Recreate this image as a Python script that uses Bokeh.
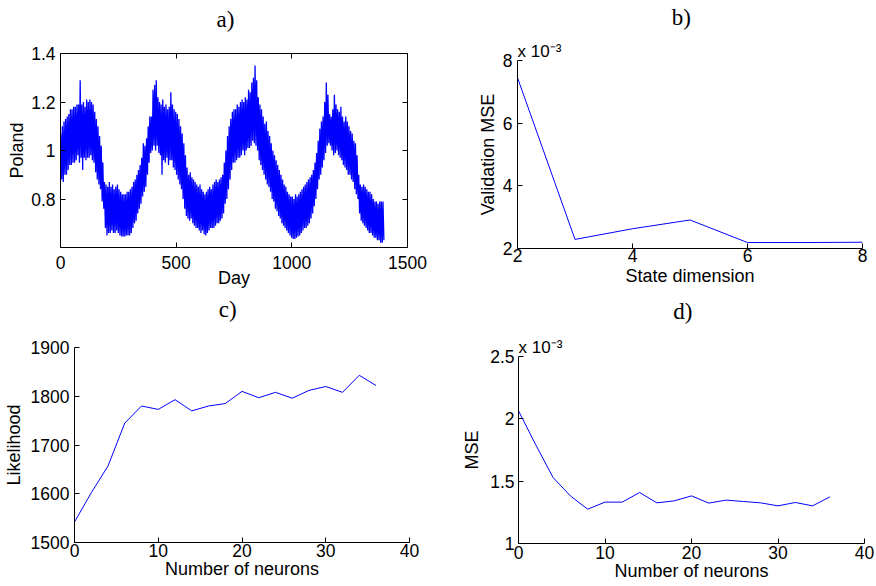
from bokeh.plotting import figure
from bokeh.models import Range1d, FixedTicker, LinearAxis, Title, CustomJSTickFormatter
from bokeh.layouts import column, row
from bokeh.embed import file_html
from bokeh.resources import INLINE

# ---------------- data ----------------
# a) Poland daily load: per-week weekday level (high) and weekend level (low)
poland_week_high = [
    1.07, 1.10, 1.12, 1.13, 1.14, 1.15, 1.17, 1.17, 1.18, 1.18,
    1.19, 1.19, 1.29, 1.19, 1.20, 1.18, 1.21, 1.20, 1.21, 1.20,
    1.19, 1.16, 1.13, 1.10, 1.06, 1.02, 0.95, 0.87, 0.86, 0.85,
    0.87, 0.85, 0.86, 0.84, 0.85, 0.86, 0.84, 0.83, 0.82, 0.82,
    0.82, 0.83, 0.83, 0.84, 0.85, 0.87, 0.88, 0.90, 0.92, 0.94,
    0.97, 1.03, 1.02, 1.05, 1.10, 1.14, 1.14, 1.25, 1.27, 1.29,
    1.22, 1.20, 1.19, 1.21, 1.18, 1.19, 1.17, 1.18, 1.24, 1.19,
    1.17, 1.16, 1.15, 1.13, 1.10, 1.07, 1.03, 0.98, 0.93, 0.90,
    0.91, 0.89, 0.88, 0.87, 0.86, 0.85, 0.86, 0.84, 0.83, 0.82,
    0.83, 0.84, 0.85, 0.84, 0.86, 0.87, 0.88, 0.87, 0.88, 0.89,
    0.90, 0.95, 1.00, 1.06, 1.10, 1.13, 1.16, 1.17, 1.17, 1.19,
    1.18, 1.20, 1.21, 1.20, 1.22, 1.21, 1.25, 1.24, 1.28, 1.30,
    1.35, 1.29, 1.22, 1.19, 1.17, 1.14, 1.11, 1.12, 1.08, 1.06,
    1.03, 1.00, 0.98, 0.96, 0.94, 0.92, 0.90, 0.88, 0.86, 0.85,
    0.83, 0.82, 0.81, 0.81, 0.80, 0.82, 0.81, 0.82, 0.83, 0.84,
    0.85, 0.86, 0.87, 0.88, 0.89, 0.90, 0.92, 0.95, 0.99, 1.04,
    1.09, 1.12, 1.14, 1.20, 1.28, 1.23, 1.15, 1.14, 1.17, 1.23,
    1.19, 1.17, 1.16, 1.18, 1.14, 1.12, 1.14, 1.12, 1.10, 1.08,
    1.07, 1.04, 1.03, 0.98, 0.90, 0.86, 0.85, 0.86, 0.85, 0.84,
    0.83, 0.83, 0.82, 0.80, 0.79, 0.79, 0.78, 0.79, 0.79, 0.79,
]
poland_week_low = [
    0.88, 0.87, 0.90, 0.90, 0.92, 0.94, 0.94, 0.95, 0.95, 0.96,
    0.98, 0.95, 0.97, 0.92, 0.97, 0.96, 0.97, 0.97, 0.98, 0.96,
    0.95, 0.91, 0.88, 0.86, 0.84, 0.79, 0.76, 0.68, 0.65, 0.66,
    0.66, 0.67, 0.66, 0.66, 0.67, 0.66, 0.65, 0.645, 0.645, 0.645,
    0.65, 0.65, 0.65, 0.66, 0.68, 0.70, 0.71, 0.74, 0.76, 0.78,
    0.81, 0.83, 0.85, 0.90, 0.95, 0.99, 1.00, 1.02, 1.00, 1.02,
    0.99, 0.98, 0.90, 0.96, 0.95, 0.97, 0.94, 0.96, 0.96, 0.93,
    0.92, 0.90, 0.88, 0.86, 0.84, 0.80, 0.76, 0.73, 0.72, 0.71,
    0.72, 0.70, 0.69, 0.68, 0.68, 0.67, 0.66, 0.67, 0.655, 0.65,
    0.66, 0.67, 0.68, 0.68, 0.68, 0.69, 0.70, 0.70, 0.71, 0.72,
    0.74, 0.78, 0.80, 0.84, 0.88, 0.92, 0.95, 0.95, 0.96, 0.97,
    0.97, 0.98, 1.00, 0.98, 1.00, 1.01, 1.01, 1.02, 1.04, 1.03,
    1.02, 1.00, 0.96, 0.94, 0.92, 0.90, 0.88, 0.86, 0.85, 0.83,
    0.80, 0.79, 0.76, 0.75, 0.73, 0.72, 0.70, 0.69, 0.68, 0.67,
    0.66, 0.65, 0.64, 0.635, 0.635, 0.64, 0.645, 0.65, 0.66, 0.67,
    0.68, 0.68, 0.69, 0.70, 0.72, 0.74, 0.77, 0.80, 0.84, 0.88,
    0.90, 0.93, 0.96, 0.99, 1.02, 1.03, 1.02, 1.00, 0.98, 0.99,
    1.00, 0.98, 0.97, 0.96, 0.94, 0.93, 0.92, 0.90, 0.90, 0.88,
    0.87, 0.84, 0.82, 0.80, 0.74, 0.71, 0.70, 0.69, 0.68, 0.67,
    0.66, 0.66, 0.65, 0.64, 0.64, 0.63, 0.63, 0.62, 0.62, 0.63,
]
week_days = 7
a_xticks = [0, 500, 1000, 1500]
a_yticks = [0.8, 1.0, 1.2, 1.4]

# b) validation MSE (units of 1e-3) vs state dimension
state_dim = [2, 3, 4, 5, 6, 7, 8]
val_mse_e3 = [7.45, 2.29, 2.63, 2.91, 2.19, 2.19, 2.20]
b_xticks = [2, 4, 6, 8]
b_yticks = [2, 4, 6, 8]

# c) likelihood vs number of neurons
neurons = [0, 2, 4, 6, 8, 10, 12, 14, 16, 18, 20, 22, 24, 26, 28, 30, 32, 34, 36]
likelihood = [1542, 1602, 1657, 1745, 1780, 1773, 1793, 1770, 1780, 1785,
              1810, 1797, 1808, 1796, 1812, 1820, 1808, 1843, 1822]
c_xticks = [0, 10, 20, 30, 40]
c_yticks = [1500, 1600, 1700, 1800, 1900]

# d) MSE (units of 1e-3) vs number of neurons
mse_e3 = [2.064, 1.791, 1.529, 1.382, 1.275, 1.332, 1.332, 1.409, 1.326, 1.342,
          1.382, 1.324, 1.348, 1.337, 1.326, 1.302, 1.329, 1.302, 1.374]
d_xticks = [0, 10, 20, 30, 40]
d_yticks = [1.0, 1.5, 2.0, 2.5]

# ---------------- helpers ----------------
SANS = "Liberation Sans"
SERIF = "Liberation Serif"
FMT = "return String(Math.round(tick*1000)/1000);"
BLUE = "#0000ff"
NB = "\u00a0"


def style_axis(ax, ticks, label=None, standoff=5, label_standoff=0, show_labels=True):
    ax.ticker = FixedTicker(ticks=ticks)
    ax.formatter = CustomJSTickFormatter(code=FMT)
    ax.major_tick_in = 5
    ax.major_tick_out = 0
    ax.minor_tick_line_color = None
    ax.axis_line_color = "black"
    ax.axis_line_width = 1
    ax.major_tick_line_color = "black"
    ax.major_label_text_font = SANS
    ax.major_label_text_color = "black"
    if show_labels:
        ax.major_label_text_font_size = "17.5px"
        ax.major_label_standoff = standoff
    else:
        ax.major_label_text_font_size = "0px"
        ax.major_label_standoff = 0
    if label is not None:
        ax.axis_label = label
        ax.axis_label_text_font = SANS
        ax.axis_label_text_font_size = "18px"
        ax.axis_label_text_font_style = "normal"
        ax.axis_label_text_color = "black"
        ax.axis_label_standoff = label_standoff


def letter_on_axis(ax, text, standoff):
    # panel letter drawn as the label of an axis above the frame
    ax.axis_label = text
    ax.axis_label_text_font = SERIF
    ax.axis_label_text_font_size = "23px"
    ax.axis_label_text_font_style = "normal"
    ax.axis_label_text_color = "black"
    ax.axis_label_standoff = standoff


def hidden_top_axis(p):
    ax = LinearAxis()
    p.add_layout(ax, "above")
    ax.ticker = FixedTicker(ticks=[])
    ax.axis_line_color = None
    ax.major_tick_line_color = None
    ax.minor_tick_line_color = None
    ax.major_label_text_font_size = "0px"
    ax.major_label_standoff = 0
    ax.major_tick_in = 0
    ax.major_tick_out = 0
    return ax


def make_fig(xr, yr, fw, fh, bl, br, bt, bb):
    p = figure(frame_width=fw, frame_height=fh,
               min_border_left=bl, min_border_right=br,
               min_border_top=bt, min_border_bottom=bb,
               x_range=Range1d(*xr), y_range=Range1d(*yr), title=None,
               output_backend="svg", toolbar_location=None, tools="",
               frame_align=False)
    p.grid.visible = False
    p.outline_line_color = None
    p.background_fill_color = "white"
    p.border_fill_color = "white"
    return p


def exp_title(standoff):
    return Title(text="x 10\u207b\u00b3", align="left", standoff=standoff,
                 text_font=SANS, text_font_size="17px", text_font_style="normal",
                 text_color="black")


# ---------------- panel a ----------------
days = []
load = []
for i, (hi, lo) in enumerate(zip(poland_week_high, poland_week_low)):
    days += [week_days * i + 1, week_days * i + 5]
    load += [hi, lo]

pa = make_fig((0, 1500), (0.6, 1.4), 347, 194, 60, 31, 53, 46)
pa.line(days, load, line_color=BLUE, line_width=1.3)
style_axis(pa.xaxis[0], a_xticks, "Day", standoff=8, label_standoff=-4)
style_axis(pa.yaxis[0], a_yticks, "Poland", standoff=5, label_standoff=1)
top_ax = LinearAxis()
right_ax = LinearAxis()
pa.add_layout(top_ax, "above")
pa.add_layout(right_ax, "right")
style_axis(top_ax, a_xticks, show_labels=False)
style_axis(right_ax, a_yticks, show_labels=False)
letter_on_axis(top_ax, "a)" + NB * 3, 22)

# ---------------- panel b ----------------
pb = make_fig((2, 8), (2, 8), 345, 188, 79, 12, 60, 45)
pb.line(state_dim, val_mse_e3, line_color=BLUE, line_width=1)
style_axis(pb.xaxis[0], b_xticks, "State dimension", standoff=0, label_standoff=1)
style_axis(pb.yaxis[0], b_yticks, "Validation MSE", standoff=5, label_standoff=2)
pb.add_layout(exp_title(0), "above")
letter_on_axis(hidden_top_axis(pb), "b)" + NB * 3, 10)

# ---------------- panel c ----------------
pc = make_fig((0, 40), (1500, 1900), 335, 195, 72, 31, 54, 42)
pc.line(neurons, likelihood, line_color=BLUE, line_width=1)
style_axis(pc.xaxis[0], c_xticks, "Number of neurons", standoff=1, label_standoff=-1)
style_axis(pc.yaxis[0], c_yticks, "Likelihood", standoff=5, label_standoff=4)
letter_on_axis(hidden_top_axis(pc), "c)" + NB * 5, 26)

# ---------------- panel d ----------------
pd_ = make_fig((0, 40), (1.0, 2.5), 346, 187, 78, 12, 63, 41)
pd_.line(neurons, mse_e3, line_color=BLUE, line_width=1)
style_axis(pd_.xaxis[0], d_xticks, "Number of neurons", standoff=2, label_standoff=-1)
style_axis(pd_.yaxis[0], d_yticks, "MSE", standoff=4, label_standoff=5)
pd_.add_layout(exp_title(0), "above")
letter_on_axis(hidden_top_axis(pd_), "d)" + NB * 3, 12)

layout = column(row(pa, pb), row(pc, pd_))
open("out.html", "w").write(file_html(layout, INLINE))
